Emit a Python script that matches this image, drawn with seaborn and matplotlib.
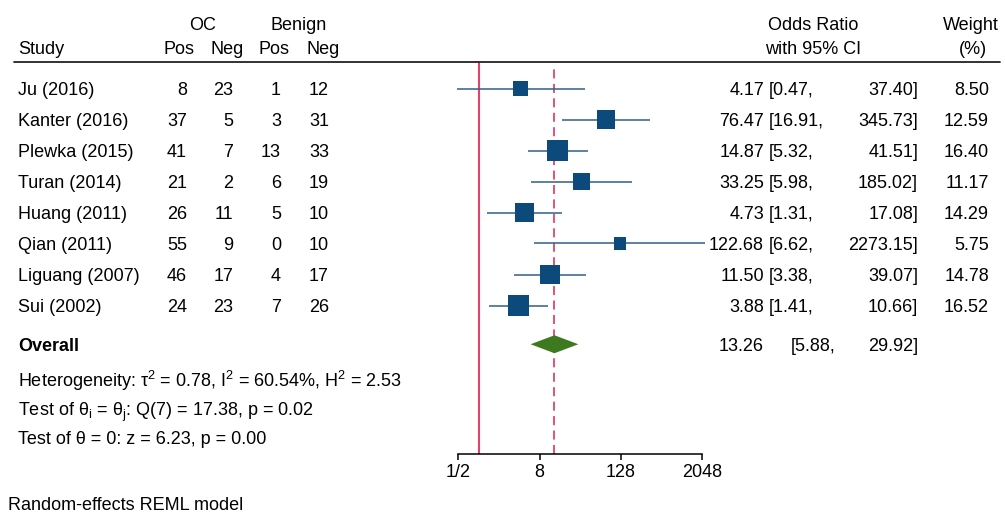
import numpy as np
import pandas as pd
import matplotlib
matplotlib.use("Agg")
import matplotlib.pyplot as plt
import matplotlib.transforms as mtransforms
import seaborn as sns

# ---- study data -------------------------------------------------------
studies = ["Ju (2016)", "Kanter (2016)", "Plewka (2015)", "Turan (2014)",
           "Huang (2011)", "Qian (2011)", "Liguang (2007)", "Sui (2002)"]
oc_pos = [8, 37, 41, 21, 26, 55, 46, 24]
oc_neg = [23, 5, 7, 2, 11, 9, 17, 23]
benign_pos = [1, 3, 13, 6, 5, 0, 4, 7]
benign_neg = [12, 31, 33, 19, 10, 10, 17, 26]
odds_ratio = [4.17, 76.47, 14.87, 33.25, 4.73, 122.68, 11.50, 3.88]
ci_low = [0.47, 16.91, 5.32, 5.98, 1.31, 6.62, 3.38, 1.41]
ci_high = [37.40, 345.73, 41.51, 185.02, 17.08, 2273.15, 39.07, 10.66]
weight_pct = [8.50, 12.59, 16.40, 11.17, 14.29, 5.75, 14.78, 16.52]

overall_or = 13.26
overall_low = 5.88
overall_high = 29.92

tick_values = [0.5, 8, 128, 2048]
tick_labels = ["1/2", "8", "128", "2048"]

heterogeneity_lines = [
    "Heterogeneity: \u03c4$^2$ = 0.78, I$^2$ = 60.54%, H$^2$ = 2.53",
    "Test of \u03b8$_i$ = \u03b8$_j$: Q(7) = 17.38, p = 0.02",
    "Test of \u03b8 = 0: z = 6.23, p = 0.00",
]
model_note = "Random-effects REML model"

# ---- styling ----------------------------------------------------------
sns.set_style("white")
plt.rcParams["font.family"] = ["Liberation Sans", "DejaVu Sans"]
plt.rcParams["mathtext.default"] = "regular"
plt.rcParams["mathtext.fontset"] = "custom"
plt.rcParams["mathtext.rm"] = "Liberation Sans"
plt.rcParams["mathtext.it"] = "Liberation Sans"

FS = 13
SQUARE = "#0b4a7a"
CI_LINE = "#2f5f8c"
DIAMOND = "#3d7a1f"
REF_RED = "#e0446c"

W, H = 1005, 513
fig = plt.figure(figsize=(W / 100, H / 100), dpi=100)
fig.patch.set_facecolor("white")


def fx(px):
    return px / W


def fy(py):
    return 1 - py / H


# plot panel: log2 odds-ratio scale
ax_left, ax_right, ax_top, ax_bottom = 438, 722.6, 62, 454
ax = fig.add_axes([fx(ax_left), fy(ax_bottom), (ax_right - ax_left) / W,
                   (ax_bottom - ax_top) / H])
ax.set_facecolor("none")
ax.set_xscale("log", base=2)
ax.set_xlim(0.25, 4096)
row_px = 31.0
y_first = 88.5
ax.set_ylim((ax_bottom - y_first) / row_px, (ax_top - y_first) / row_px)

df = pd.DataFrame({
    "study": studies, "row": np.arange(len(studies), dtype=float),
    "or": odds_ratio, "lo": ci_low, "hi": ci_high, "w": weight_pct,
})
overall_row = 8.25

# reference lines
ax.axvline(1, color=REF_RED, lw=1.5, zorder=1)
ax.axvline(overall_or, ymax=0.985, color=REF_RED, lw=1.3,
           ls=(0, (5, 3)), zorder=1)

# confidence intervals
ax.hlines(df["row"], df["lo"], df["hi"], color=CI_LINE, lw=1.1, zorder=2)

# study estimates: square area proportional to weight
k = 13.5
sns.scatterplot(data=df, x="or", y="row", size="w",
                sizes=(k * min(weight_pct), k * max(weight_pct)),
                size_norm=(min(weight_pct), max(weight_pct)),
                marker="s", color=SQUARE, edgecolor=SQUARE, linewidth=0,
                legend=False, ax=ax, zorder=3)

# pooled estimate diamond
half_h = 0.29
ax.fill([overall_low, overall_or, overall_high, overall_or],
        [overall_row, overall_row - half_h, overall_row, overall_row + half_h],
        color=DIAMOND, lw=0, zorder=3)

for s in ["top", "left", "right"]:
    ax.spines[s].set_visible(False)
ax.spines["bottom"].set_bounds(tick_values[0], tick_values[-1])
ax.spines["bottom"].set_linewidth(1.1)
ax.spines["bottom"].set_color("black")
ax.set_xticks(tick_values)
ax.set_xticklabels(tick_labels)
ax.minorticks_off()
ax.tick_params(axis="x", length=4, width=1.1, direction="out", pad=3.5,
               labelsize=FS, colors="black", bottom=True)
ax.set_yticks([])
ax.set_xlabel("")
ax.set_ylabel("")

# ---- table text -------------------------------------------------------
row_tf = mtransforms.blended_transform_factory(fig.transFigure, ax.transData)
txt = dict(fontsize=FS, color="black")

# header
fig.text(fx(203), fy(24), "OC", ha="center", va="center_baseline", **txt)
fig.text(fx(299), fy(24), "Benign", ha="center", va="center_baseline", **txt)
fig.text(fx(18), fy(48), "Study", ha="left", va="center_baseline", **txt)
for cx, lab in [(179, "Pos"), (227, "Neg"), (274, "Pos"), (323, "Neg")]:
    fig.text(fx(cx), fy(48), lab, ha="center", va="center_baseline", **txt)
fig.text(fx(813), fy(24), "Odds Ratio", ha="center", va="center_baseline", **txt)
fig.text(fx(813), fy(48), "with 95% CI", ha="center", va="center_baseline", **txt)
fig.text(fx(971), fy(24), "Weight", ha="center", va="center_baseline", **txt)
fig.text(fx(973), fy(48), "(%)", ha="center", va="center_baseline", **txt)
fig.add_artist(plt.Line2D([fx(14), fx(1000)], [fy(61.5), fy(61.5)],
                          color="#222222", lw=1.3))

# study rows
for _, r in df.iterrows():
    i = int(r["row"])
    y = r["row"]
    fig.text(fx(18), y, r["study"], ha="left", va="center_baseline",
             transform=row_tf, **txt)
    for xr, v in [(187, oc_pos[i]), (233, oc_neg[i]),
                  (281, benign_pos[i]), (329, benign_neg[i])]:
        fig.text(fx(xr), y, f"{v}", ha="right", va="center_baseline",
                 transform=row_tf, **txt)
    fig.text(fx(764), y, f"{r['or']:.2f}", ha="right", va="center_baseline",
             transform=row_tf, **txt)
    fig.text(fx(769), y, f"[{r['lo']:.2f},", ha="left", va="center_baseline",
             transform=row_tf, **txt)
    fig.text(fx(918), y, f"{r['hi']:.2f}]", ha="right", va="center_baseline",
             transform=row_tf, **txt)
    fig.text(fx(989), y, f"{r['w']:.2f}", ha="right", va="center_baseline",
             transform=row_tf, **txt)

# overall row
fig.text(fx(18), overall_row, "Overall", ha="left", va="center_baseline",
         transform=row_tf, fontweight="bold", **txt)
fig.text(fx(764), overall_row, f"{overall_or:.2f}", ha="right",
         va="center_baseline", transform=row_tf, **txt)
fig.text(fx(791), overall_row, f"[{overall_low:.2f},", ha="left",
         va="center_baseline", transform=row_tf, **txt)
fig.text(fx(918), overall_row, f"{overall_high:.2f}]", ha="right",
         va="center_baseline", transform=row_tf, **txt)

# heterogeneity statistics
for py, line in zip([378, 408, 438], heterogeneity_lines):
    fig.text(fx(18), fy(py), line, ha="left", va="center_baseline", **txt)

fig.text(fx(8), fy(503), model_note, ha="left", va="center_baseline", **txt)

fig.savefig("out.png", dpi=100, facecolor="white")
